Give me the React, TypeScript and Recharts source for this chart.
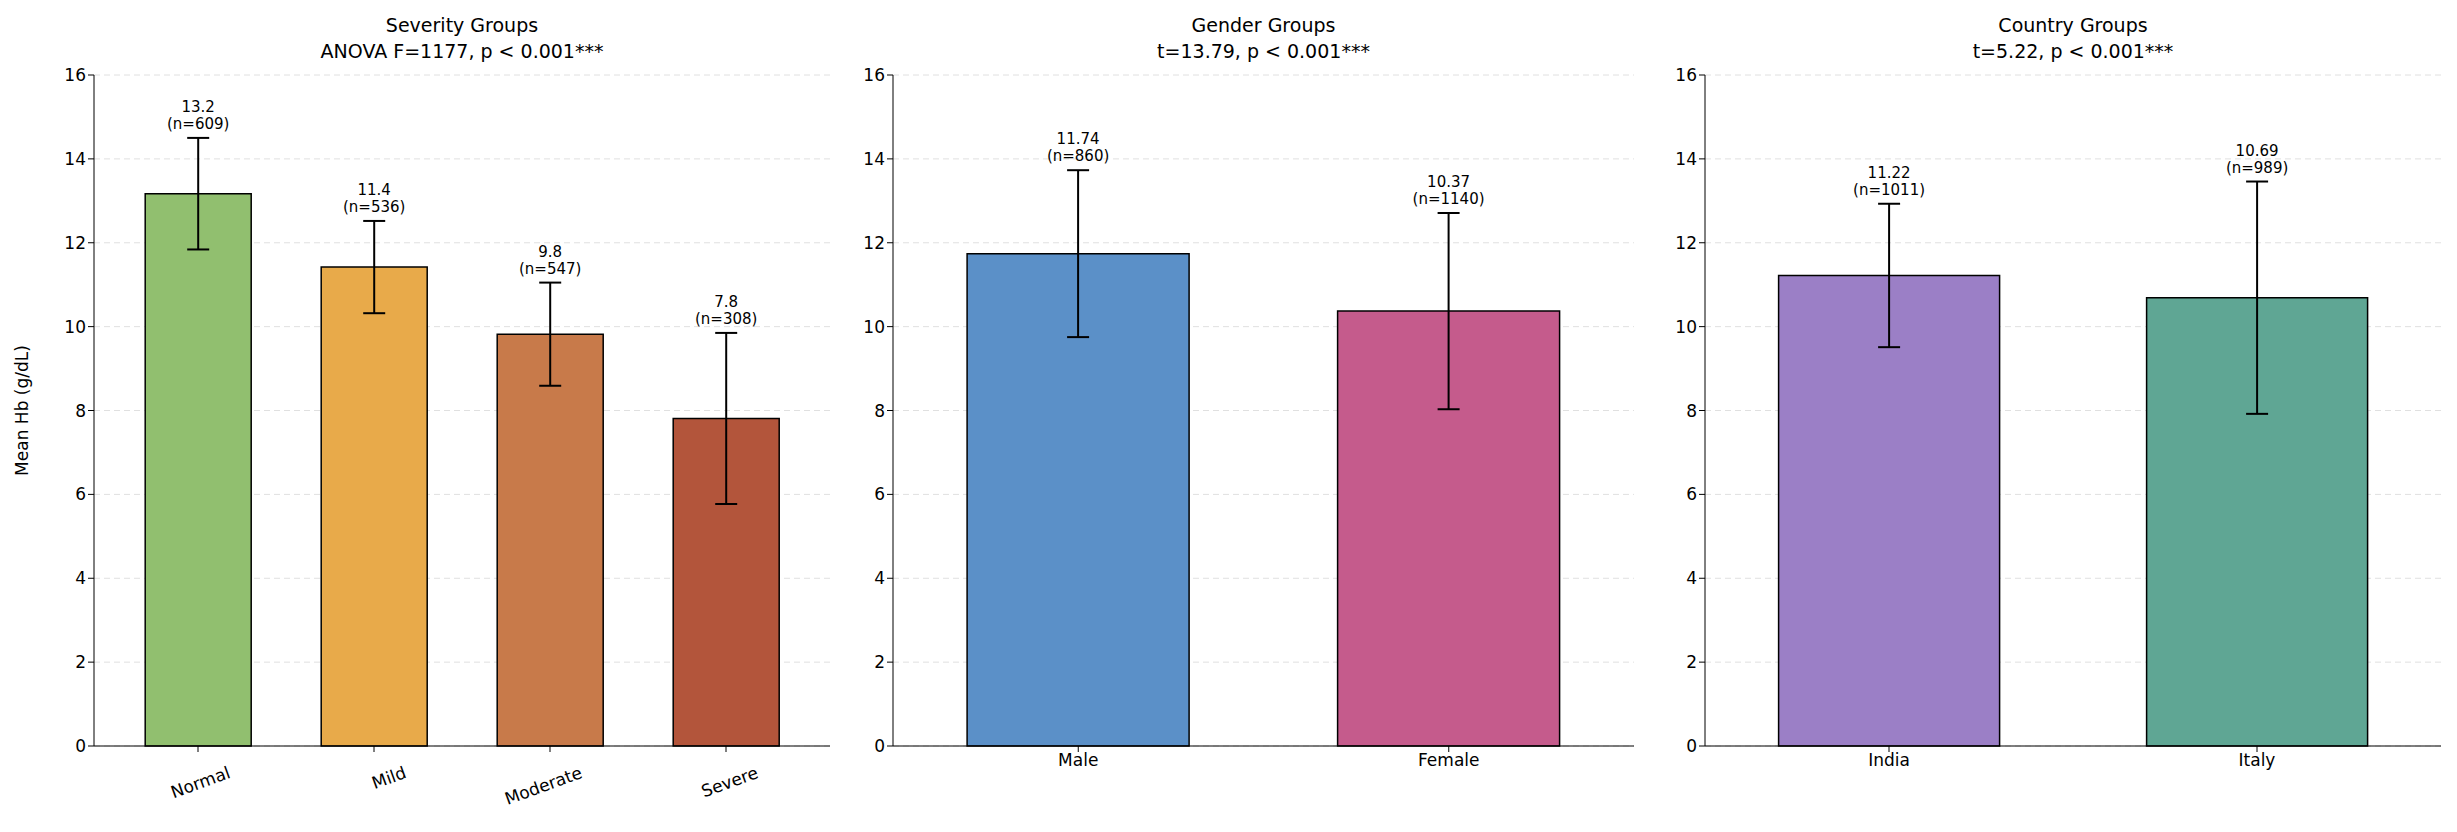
import { Bar, BarChart, CartesianGrid, Cell, ErrorBar, LabelList, XAxis, YAxis } from 'recharts'

const severityNames = ['Normal', 'Mild', 'Moderate', 'Severe']
const severityMeans = [13.17, 11.42, 9.82, 7.81]
const severitySd = [1.33, 1.1, 1.23, 2.04]
const severityN = [609, 536, 547, 308]
const severityLabels = ['13.2', '11.4', '9.8', '7.8']
const severityColors = ['#91bf6f', '#e8aa4a', '#c87a4a', '#b3553b']

const genderNames = ['Male', 'Female']
const genderMeans = [11.74, 10.37]
const genderSd = [1.99, 2.34]
const genderN = [860, 1140]
const genderLabels = ['11.74', '10.37']
const genderColors = ['#5b90c8', '#c55b8c']

const countryNames = ['India', 'Italy']
const countryMeans = [11.22, 10.69]
const countrySd = [1.71, 2.77]
const countryN = [1011, 989]
const countryLabels = ['11.22', '10.69']
const countryColors = ['#9b7fc6', '#5fa694']

const yTicks = [0, 2, 4, 6, 8, 10, 12, 14, 16]
const font = "'DejaVu Sans', sans-serif"

type Row = { name: string; mean: number; err: number; n: number; label: string }

const rows = (names: string[], means: number[], sd: number[], n: number[], labels: string[]): Row[] =>
  names.map((name, i) => ({ name, mean: means[i], err: sd[i], n: n[i], label: labels[i] }))

const SumLabel = (props: any) => {
  const { x, y, width, height, index, data } = props
  const r: Row = data[index]
  const perUnit = height / r.mean
  const top = y - r.err * perUnit
  const cx = x + width / 2
  return (
    <text x={cx} textAnchor="middle" fontSize={15} fontFamily={font} fill="#000">
      <tspan x={cx} y={top - 26}>{r.label}</tspan>
      <tspan x={cx} y={top - 9}>(n={r.n})</tspan>
    </text>
  )
}

const RotTick = (props: any) => {
  const { x, y, payload } = props
  return (
    <text
      x={x}
      y={y + 14}
      textAnchor="end"
      fontSize={17}
      fontFamily={font}
      fill="#000"
      transform={`rotate(-20 ${x + 30} ${y + 14})`}
      dx={30}
      dy={10}
    >
      {payload.value}
    </text>
  )
}

type PanelProps = {
  left: number
  width: number
  yWidth: number
  marginLeft: number
  marginRight: number
  data: Row[]
  colors: string[]
  title: string[]
  rotate?: boolean
  pad: number
  yLabel?: string
}

function Panel({ left, width, yWidth, marginLeft, marginRight, data, colors, title, rotate, pad, yLabel }: PanelProps) {
  const plotLeft = marginLeft + yWidth
  const plotRight = width - marginRight
  const center = (plotLeft + plotRight) / 2
  return (
    <div style={{ position: 'absolute', left, top: 0, width, height: 832 }}>
      <div
        style={{
          position: 'absolute',
          left: center - 300,
          width: 600,
          top: 12,
          textAlign: 'center',
          fontFamily: font,
          fontSize: 19,
          lineHeight: '26px',
          color: '#000',
        }}
      >
        {title.map((t) => (
          <div key={t}>{t}</div>
        ))}
      </div>
      <BarChart
        width={width}
        height={832}
        data={data}
        margin={{ top: 75, bottom: 86 - (rotate ? 60 : 40), left: marginLeft, right: marginRight }}
        barCategoryGap="20%"
      >
        <CartesianGrid vertical={false} stroke="#e0e0e0" strokeDasharray="6 4" />
        <XAxis
          dataKey="name"
          height={rotate ? 60 : 40}
          padding={{ left: pad, right: pad }}
          stroke="#000"
          tickSize={6}
          tick={rotate ? <RotTick /> : { fill: '#000', fontSize: 17, fontFamily: font }}
          interval={0}
        />
        <YAxis
          width={yWidth}
          domain={[0, 16]}
          ticks={yTicks}
          stroke="#000"
          tickSize={6}
          tick={{ fill: '#000', fontSize: 17, fontFamily: font }}
          label={
            yLabel
              ? { value: yLabel, angle: -90, position: 'insideLeft', offset: -8, fontSize: 17, fontFamily: font, fill: '#000', style: { textAnchor: 'middle' } }
              : undefined
          }
        />
        <Bar dataKey="mean" stroke="#000" strokeWidth={1.5} isAnimationActive={false}>
          {data.map((r, i) => (
            <Cell key={r.name} fill={colors[i]} />
          ))}
          <ErrorBar dataKey="err" width={11} stroke="#000" strokeWidth={2} />
          <LabelList dataKey="mean" content={<SumLabel data={data} />} />
        </Bar>
      </BarChart>
    </div>
  )
}

export default function App() {
  return (
    <div style={{ position: 'absolute', left: 0, top: 0, width: 2457, height: 832, background: '#fff' }}>
      <Panel
        left={0}
        width={850}
        yWidth={64}
        marginLeft={30}
        marginRight={20}
        data={rows(severityNames, severityMeans, severitySd, severityN, severityLabels)}
        colors={severityColors}
        title={['Severity Groups', 'ANOVA F=1177, p < 0.001***']}
        rotate
        pad={16}
        yLabel="Mean Hb (g/dL)"
      />
      <Panel
        left={850}
        width={800}
        yWidth={43}
        marginLeft={0}
        marginRight={16}
        data={rows(genderNames, genderMeans, genderSd, genderN, genderLabels)}
        colors={genderColors}
        title={['Gender Groups', 't=13.79, p < 0.001***']}
        pad={0}
      />
      <Panel
        left={1650}
        width={807}
        yWidth={55}
        marginLeft={0}
        marginRight={16}
        data={rows(countryNames, countryMeans, countrySd, countryN, countryLabels)}
        colors={countryColors}
        title={['Country Groups', 't=5.22, p < 0.001***']}
        pad={0}
      />
    </div>
  )
}
